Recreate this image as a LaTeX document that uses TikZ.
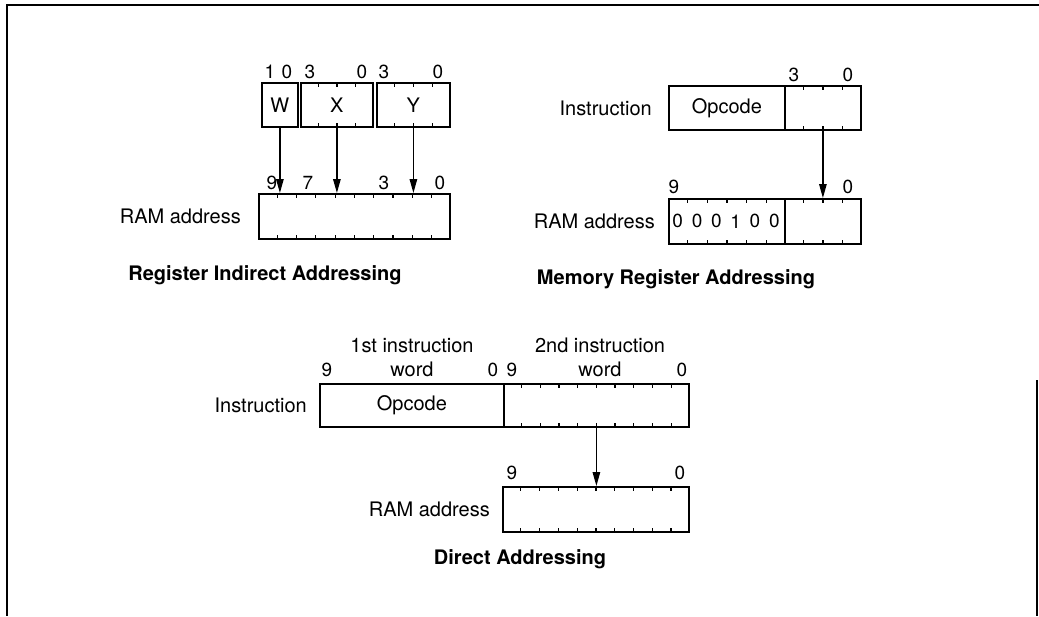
\documentclass[tikz,border=0pt]{standalone}
\usepackage{fontspec}
\setmainfont{TeX Gyre Heros}
\usetikzlibrary{arrows.meta, positioning, calc}

% short marks at every bit boundary, top and bottom
\newcommand{\bitticks}[2]{%
  \pgfmathtruncatemacro{\nlast}{#2-1}%
  \foreach \k in {1,...,\nlast}{%
    \draw[tick] ($(#1.north west)!\k/#2!(#1.north east)$) -- ++(0,5);
    \draw[tick] ($(#1.south west)!\k/#2!(#1.south east)$) -- ++(0,-5);
  }}

\begin{document}
\begin{tikzpicture}[
  x=1pt, y=-1pt,
  fld/.style={draw, line width=1.8pt, inner sep=0pt, minimum height=44pt,
              anchor=north west, font=\fontsize{20}{24}\selectfont},
  lbl/.style={inner sep=0pt, font=\fontsize{20}{24}\selectfont},
  num/.style={inner sep=0pt, font=\fontsize{19}{21}\selectfont},
  ttl/.style={inner sep=0pt, anchor=base, font=\fontsize{20}{24}\selectfont\bfseries},
  tick/.style={line width=1.2pt},
  ptr/.style={line width=1.3pt, -{Triangle[length=14pt, width=7.5pt]}},
  frame/.style={line width=2.2pt},
  node distance=16pt]

  \useasboundingbox (0,0) rectangle (1039,616);
  \draw[frame] (1039,5) -- (7,5) -- (7,616);
  \draw[frame] (1037,380) -- (1037,616);

  % register indirect
  \node[fld, minimum width=36pt] (fw) at (261,82) {W};
  \node[fld, minimum width=72pt] (fx) at (300,82) {X};
  \node[fld, minimum width=73pt] (fy) at (376,82) {Y};
  \bitticks{fx}{4}
  \bitticks{fy}{4}
  \node[num] (w1) at (270,72) {1};
  \node[num] (w0) at (287,72) {0};
  \node[num] (x3) at (310,72) {3};
  \node[num] (x0) at (362,72) {0};
  \node[num] (y3) at (384,72) {3};
  \node[num] (y0) at (438,72) {0};

  \node[fld, minimum width=191pt, minimum height=45pt] (ram1) at (258,193) {};
  \bitticks{ram1}{10}
  \node[lbl, left=17pt of ram1] (ram1lbl) {RAM address};
  \node[num] (r9) at (272,183) {9};
  \node[num] (r7) at (308,183) {7};
  \node[num] (r3) at (384,183) {3};
  \node[num] (r0) at (440,183) {0};

  \draw[ptr] (fw.south) -- (fw.south |- ram1.north);
  \draw[ptr] (fx.south) -- (fx.south |- ram1.north);
  \draw[ptr] (fy.south) -- (fy.south |- ram1.north);

  \node[ttl] (t1) at (265,280) {Register Indirect Addressing};

  % memory register
  \node[fld, minimum width=116pt] (opc2) at (668,85) {Opcode};
  \node[fld, minimum width=76pt] (adr2) at (784,85) {};
  \bitticks{adr2}{4}
  \node[lbl, left=16pt of opc2] (ins2) {Instruction};
  \node[num] (a3) at (794,75) {3};
  \node[num] (a0) at (848,75) {0};

  \node[fld, minimum width=116pt, minimum height=45pt] (hi2) at (668,198) {};
  \node[fld, minimum width=76pt, minimum height=45pt] (lo2) at (784,198) {};
  \bitticks{hi2}{6}
  \bitticks{lo2}{4}
  \foreach \b [count=\i from 0] in {0,0,0,1,0,0}
    \node[num] (page\i) at ($(hi2.west)+(9.7+19.33*\i,0)$) {\b};
  \node[lbl, left=13pt of hi2] (ram2lbl) {RAM address};
  \node[num] (m9) at (674,187) {9};
  \node[num] (m0) at (848,187) {0};

  \draw[ptr] (adr2.south) -- (adr2.south |- lo2.north);

  \node[ttl] (t2) at (676,284) {Memory Register Addressing};

  % direct
  \node[fld, minimum width=184pt, minimum height=43pt] (opc3) at (319,383) {Opcode};
  \node[fld, minimum width=185pt, minimum height=43pt] (adr3) at (503,383) {};
  \bitticks{adr3}{10}
  \node[lbl, left=12pt of opc3] (ins3) {Instruction};
  \node[lbl, align=center, anchor=south] (w1st) at (412,377) {1st instruction\\word};
  \node[lbl, align=center, anchor=south] (w2nd) at (600,377) {2nd instruction\\word};
  \node[num] (d9) at (327,370) {9};
  \node[num] (d0) at (493,370) {0};
  \node[num] (e9) at (512,370) {9};
  \node[num] (e0) at (682,370) {0};

  \node[fld, minimum width=186pt, minimum height=45pt] (ram3) at (502,486) {};
  \bitticks{ram3}{10}
  \node[lbl, left=12pt of ram3] (ram3lbl) {RAM address};
  \node[num] (f9) at (512,473) {9};
  \node[num] (f0) at (680,473) {0};

  \draw[ptr] (adr3.south) -- (adr3.south |- ram3.north);

  \node[ttl] (t3) at (520,564) {Direct Addressing};
\end{tikzpicture}
\end{document}
